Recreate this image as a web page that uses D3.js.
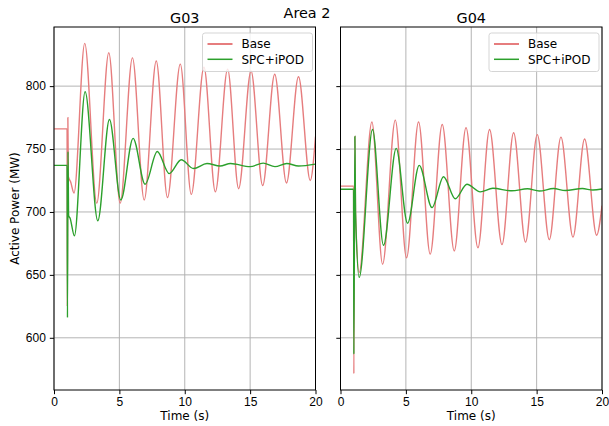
<!DOCTYPE html>
<html>
<head>
<meta charset="utf-8">
<script src="https://cdn.jsdelivr.net/npm/d3@7"></script>
<style>
  body { margin: 0; background: #fff; }
  svg { font-family: "DejaVu Sans", sans-serif; }
</style>
</head>
<body>
<div id="chart"></div>
<script>
// values (time in s, power in MW)
var g03BaseT = [0, 1.0, 1.02, 1.06, 1.1, 1.27, 1.53, 2.35, 3.27, 4.19, 5.06, 6.0, 6.9, 7.82, 8.68, 9.66, 10.5, 11.47, 12.34, 13.28, 14.12, 15.07, 15.96, 16.88, 17.78, 18.7, 19.6, 20];
var g03BaseP = [766, 766, 625, 775, 728, 724, 715, 834, 707, 826.5, 707, 822.5, 709.5, 820, 711.5, 817.5, 714, 815, 716, 813.5, 718.5, 812, 721, 809.5, 723, 807.5, 725, 760];
var g03PodT = [0, 1.0, 1.03, 1.07, 1.12, 1.23, 1.56, 2.38, 3.35, 4.24, 5.11, 6.05, 6.97, 7.9, 8.81, 9.73, 10.67, 11.7, 12.7, 13.5, 15.0, 16.0, 16.9, 17.8, 18.7, 20];
var g03PodP = [737, 737, 616, 748, 697, 695, 681, 795.5, 693, 773.5, 709.5, 758.5, 722, 748, 730.5, 741.5, 734.5, 738.5, 736.5, 738.5, 736, 738.8, 736, 738.5, 736.5, 738];

var g04BaseT = [0, 1.0, 1.02, 1.1, 1.15, 1.43, 2.4, 3.22, 4.19, 5.05, 5.97, 6.86, 7.78, 8.7, 9.6, 10.51, 11.4, 12.35, 13.24, 14.15, 15.05, 15.97, 16.86, 17.78, 18.67, 19.59, 20];
var g04BaseP = [720.5, 720.5, 571.5, 760, 700, 652, 771.5, 658.5, 773, 663.5, 771.5, 666.5, 769.5, 669, 767, 671.5, 765.5, 674, 763, 676, 761.5, 678, 759.5, 680, 758, 681.5, 705];
var g04PodT = [0, 1.0, 1.02, 1.1, 1.15, 1.43, 2.45, 3.29, 4.26, 5.13, 6.02, 7.0, 7.88, 8.78, 9.67, 10.69, 11.65, 13.1, 14.3, 15.2, 16.3, 17.2, 18.5, 19.3, 20];
var g04PodP = [718, 718, 587, 760, 700, 648, 765.5, 673.5, 750.5, 691, 737, 703.5, 728, 710.5, 722, 716, 718.8, 716.8, 718.4, 716.6, 718.6, 717, 718.6, 717.4, 718.3];

var panels = [
  { title: "G03", base: [g03BaseT, g03BaseP], pod: [g03PodT, g03PodP] },
  { title: "G04", base: [g04BaseT, g04BaseP], pod: [g04PodT, g04PodP] }
];
var seriesNames = ["Base", "SPC+iPOD"];
var xTicks = [0, 5, 10, 15, 20];
var yTicks = [600, 650, 700, 750, 800];

var width = 609, height = 426;
var baseColor = "#e67d7e";
var podColor = "#2ca02c";
var gridColor = "#b0b0b0";

var svg = d3.select("#chart").append("svg")
  .attr("width", width)
  .attr("height", height);

var plotTop = 27, plotBottom = 390;
var panelLeft = [54, 340.5];
var panelW = 261.5;

var y = d3.scaleLinear().domain([558.5, 847]).range([plotBottom, plotTop]);

svg.append("text")
  .attr("x", 307).attr("y", 18)
  .attr("text-anchor", "middle")
  .style("font-size", "14.4px")
  .text("Area 2");

svg.append("text")
  .attr("transform", "translate(19," + ((plotTop + plotBottom) / 2) + ") rotate(-90)")
  .attr("text-anchor", "middle")
  .style("font-size", "12px")
  .text("Active Power (MW)");

panels.forEach(function(p, i) {
  var x = d3.scaleLinear().domain([0, 20]).range([panelLeft[i], panelLeft[i] + panelW]);
  var g = svg.append("g");

  // grid
  g.selectAll(".gx").data(xTicks).enter().append("line")
    .attr("x1", function(d) { return x(d); }).attr("x2", function(d) { return x(d); })
    .attr("y1", plotTop).attr("y2", plotBottom)
    .attr("stroke", gridColor).attr("stroke-width", 0.95);
  g.selectAll(".gy").data(yTicks).enter().append("line")
    .attr("x1", x(0)).attr("x2", x(20))
    .attr("y1", function(d) { return y(d); }).attr("y2", function(d) { return y(d); })
    .attr("stroke", gridColor).attr("stroke-width", 0.95);

  // clip
  var clipId = "clip" + i;
  svg.append("clipPath").attr("id", clipId).append("rect")
    .attr("x", x(0)).attr("y", plotTop).attr("width", panelW).attr("height", plotBottom - plotTop);

  var line = d3.line()
    .x(function(d) { return x(d[0]); })
    .y(function(d) { return y(d[1]); })
    .curve(d3.curveMonotoneX);

  [[p.base, baseColor], [p.pod, podColor]].forEach(function(s) {
    var pts = d3.zip(s[0][0], s[0][1]);
    g.append("path")
      .datum(pts)
      .attr("clip-path", "url(#" + clipId + ")")
      .attr("fill", "none")
      .attr("stroke", s[1])
      .attr("stroke-width", 1.4)
      .attr("d", line);
  });

  // axes
  g.append("g")
    .attr("transform", "translate(0," + plotBottom + ")")
    .call(d3.axisBottom(x).tickValues(xTicks).tickSize(4.2).tickPadding(3))
    .call(function(a) { a.select(".domain").remove(); })
    .selectAll("text").style("font-size", "12px").attr("fill", "#000");

  var ya = g.append("g")
    .attr("transform", "translate(" + x(0) + ",0)")
    .call(d3.axisLeft(y).tickValues(yTicks).tickSize(4.2).tickPadding(4).tickFormat(i === 0 ? d3.format("d") : ""));
  ya.select(".domain").remove();
  ya.selectAll("text").style("font-size", "12px").attr("fill", "#000");

  g.append("rect")
    .attr("x", x(0)).attr("y", plotTop)
    .attr("width", panelW).attr("height", plotBottom - plotTop)
    .attr("fill", "none").attr("stroke", "#000").attr("stroke-width", 1);

  g.append("text")
    .attr("x", x(10)).attr("y", plotTop - 4.5)
    .attr("text-anchor", "middle")
    .style("font-size", "14.4px")
    .text(p.title);

  g.append("text")
    .attr("x", x(10)).attr("y", plotBottom + 30)
    .attr("text-anchor", "middle")
    .style("font-size", "12px")
    .text("Time (s)");

  // legend
  var lx = x(20) - 113, ly = plotTop + 6;
  var leg = g.append("g").attr("transform", "translate(" + lx + "," + ly + ")");
  leg.append("rect")
    .attr("width", 110).attr("height", 38.5)
    .attr("rx", 2.5)
    .attr("fill", "#fff").attr("fill-opacity", 0.8)
    .attr("stroke", "#d0d0d0").attr("stroke-width", 0.9);
  seriesNames.forEach(function(n, k) {
    var cy = 11 + k * 15.3;
    leg.append("line")
      .attr("x1", 5).attr("x2", 30)
      .attr("y1", cy).attr("y2", cy)
      .attr("stroke", k === 0 ? baseColor : podColor)
      .attr("stroke-width", k === 0 ? 2 : 1.5);
    leg.append("text")
      .attr("x", 39).attr("y", cy + 4.3)
      .style("font-size", "12px")
      .text(n);
  });
});
</script>
</body>
</html>
